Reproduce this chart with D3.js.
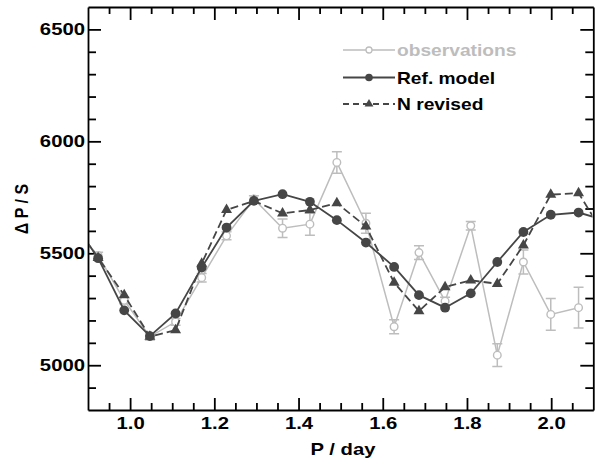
<!DOCTYPE html>
<html>
<head>
<meta charset="utf-8">
<script src="https://cdn.jsdelivr.net/npm/d3@7"></script>
<style>
  body { margin: 0; background: #fff; }
  text { font-family: "Liberation Sans", Arial, sans-serif; font-weight: bold; }
</style>
</head>
<body>
<svg id="chart" width="597" height="459"></svg>
<script>
// Pulsation period (days) of each point
var periods = [0.862, 0.924, 0.986, 1.047, 1.108, 1.170, 1.229, 1.294, 1.362, 1.427, 1.491,
    1.560, 1.627, 1.686, 1.748, 1.809, 1.872, 1.934, 1.999, 2.065, 2.128];

// Period spacing, observations (null = no point)
var obsValues = [5620, 5490, 5290, 5128, 5194, 5391, 5578, 5742, 5612, 5630, 5906,
    5634, 5172, 5503, 5286, 5623, 5045, 5461, 5227, 5257, null];
var obsErrors = [0, 15, 15, 15, 15, 19, 18, 15, 41, 50, 48,
    45, 31, 31, 18, 19, 51, 54, 71, 91, null];

// Reference model
var refValues = [5650, 5478, 5245, 5130, 5231, 5436, 5615, 5734, 5764, 5730, 5648,
    5548, 5439, 5313, 5257, 5321, 5461, 5595, 5672, 5682, 5647];

// Model with revised N abundance
var nrevValues = [5640, 5480, 5313, 5128, 5157, 5454, 5694, 5734, 5678, 5693, 5724,
    5620, 5369, 5242, 5349, 5379, 5364, 5536, 5762, 5769, 5576];

var xMajor = [1.0, 1.2, 1.4, 1.6, 1.8, 2.0];
var yMajor = [5000, 5500, 6000, 6500];
var legendLabels = ['observations', 'Ref. model', 'N revised'];

var obsColor = '#bdbdbd';
var darkColor = '#464646';

var svg = d3.select('#chart');

var x = d3.scaleLinear().domain([0.9, 2.1]).range([88, 593.3]);
var y = d3.scaleLinear().domain([4800, 6600]).range([410, 7]);

// stretch text horizontally (the original glyphs are wide)
function stretch(sel, k) {
    sel.each(function() {
        var t = d3.select(this);
        var tx = +t.attr('x') || 0;
        t.attr('x', tx / k).attr('transform', 'scale(' + k + ',1)');
    });
}

var xMinor = d3.range(0.95, 2.1, 0.05).filter(function(v) {
    return !xMajor.some(function(m) { return Math.abs(m - v) < 1e-6; });
});
var yMinor = d3.range(4900, 6600, 100).filter(function(v) {
    return yMajor.indexOf(v) < 0;
});

function styleAxis(g) {
    g.selectAll('path, line').attr('stroke', '#000').attr('stroke-width', 1.8);
    g.selectAll('text').attr('font-size', 16).attr('fill', '#000')
        .attr('font-family', '"Liberation Sans", Arial, sans-serif');
}

// bottom
svg.append('g').attr('transform', 'translate(0,410)')
    .call(d3.axisBottom(x).tickValues(xMajor).tickSizeInner(-12).tickSizeOuter(0)
        .tickPadding(8).tickFormat(d3.format('.1f')))
    .call(styleAxis)
    .call(function(g) { stretch(g.selectAll('text'), 1.27); });
svg.append('g').attr('transform', 'translate(0,410)')
    .call(d3.axisBottom(x).tickValues(xMinor).tickSize(-7).tickFormat(''))
    .call(styleAxis)
    .call(function(g) { g.select('.domain').remove(); });

// top
svg.append('g').attr('transform', 'translate(0,7)')
    .call(d3.axisTop(x).tickValues(xMajor).tickSizeInner(-13).tickSizeOuter(0).tickFormat(''))
    .call(styleAxis);
svg.append('g').attr('transform', 'translate(0,7)')
    .call(d3.axisTop(x).tickValues(xMinor).tickSize(-7).tickFormat(''))
    .call(styleAxis)
    .call(function(g) { g.select('.domain').remove(); });

// left
svg.append('g').attr('transform', 'translate(88,0)')
    .call(d3.axisLeft(y).tickValues(yMajor).tickSizeInner(-13).tickSizeOuter(0)
        .tickPadding(3).tickFormat(d3.format('d')))
    .call(styleAxis)
    .call(function(g) { stretch(g.selectAll('text'), 1.27); });
svg.append('g').attr('transform', 'translate(88,0)')
    .call(d3.axisLeft(y).tickValues(yMinor).tickSize(-8).tickFormat(''))
    .call(styleAxis)
    .call(function(g) { g.select('.domain').remove(); });

// right
svg.append('g').attr('transform', 'translate(593.3,0)')
    .call(d3.axisRight(y).tickValues(yMajor).tickSizeInner(-13).tickSizeOuter(0).tickFormat(''))
    .call(styleAxis);
svg.append('g').attr('transform', 'translate(593.3,0)')
    .call(d3.axisRight(y).tickValues(yMinor).tickSize(-8).tickFormat(''))
    .call(styleAxis)
    .call(function(g) { g.select('.domain').remove(); });

// axis titles
svg.append('text')
    .attr('x', 343).attr('y', 455)
    .attr('text-anchor', 'middle').attr('font-size', 17)
    .text('P / day')
    .call(stretch, 1.19);

svg.append('text')
    .attr('transform', 'translate(28,209)rotate(-90)scale(1,1.2)')
    .attr('text-anchor', 'middle').attr('font-size', 16)
    .text('\u0394 P / S');

// plot area
svg.append('clipPath').attr('id', 'plot-clip')
    .append('rect')
    .attr('x', 89).attr('y', 8)
    .attr('width', 503.3).attr('height', 401);

var plot = svg.append('g').attr('clip-path', 'url(#plot-clip)');

var pts = periods.map(function(p, i) {
    return {
        p: p,
        obs: obsValues[i],
        err: obsErrors[i],
        ref: refValues[i],
        nrev: nrevValues[i]
    };
});

function lineFor(key) {
    return d3.line()
        .defined(function(d) { return d[key] !== null; })
        .x(function(d) { return x(d.p); })
        .y(function(d) { return y(d[key]); });
}

// observations
plot.append('path')
    .datum(pts)
    .attr('d', lineFor('obs'))
    .attr('fill', 'none')
    .attr('stroke', obsColor)
    .attr('stroke-width', 1.5);

var obsPts = pts.filter(function(d) { return d.obs !== null; });

plot.selectAll('path.errbar')
    .data(obsPts.filter(function(d) { return d.err > 0; }))
    .join('path')
    .classed('errbar', true)
    .attr('d', function(d) {
        var cx = x(d.p);
        var y0 = y(d.obs - d.err);
        var y1 = y(d.obs + d.err);
        var c = 5;
        return 'M' + cx + ',' + y0 + 'V' + y1 +
            'M' + (cx - c) + ',' + y0 + 'h' + (2 * c) +
            'M' + (cx - c) + ',' + y1 + 'h' + (2 * c);
    })
    .attr('fill', 'none')
    .attr('stroke', obsColor)
    .attr('stroke-width', 1.5);

plot.selectAll('circle.obs')
    .data(obsPts)
    .join('circle')
    .classed('obs', true)
    .attr('cx', function(d) { return x(d.p); })
    .attr('cy', function(d) { return y(d.obs); })
    .attr('r', 3.8)
    .attr('fill', '#fff')
    .attr('stroke', obsColor)
    .attr('stroke-width', 1.4);

// reference model
plot.append('path')
    .datum(pts)
    .attr('d', lineFor('ref'))
    .attr('fill', 'none')
    .attr('stroke', darkColor)
    .attr('stroke-width', 1.8);

plot.selectAll('circle.ref')
    .data(pts)
    .join('circle')
    .classed('ref', true)
    .attr('cx', function(d) { return x(d.p); })
    .attr('cy', function(d) { return y(d.ref); })
    .attr('r', 4.9)
    .attr('fill', darkColor);

// N revised
plot.append('path')
    .datum(pts)
    .attr('d', lineFor('nrev'))
    .attr('fill', 'none')
    .attr('stroke', darkColor)
    .attr('stroke-width', 1.8)
    .attr('stroke-dasharray', '8,4');

var tri = d3.symbol().type(d3.symbolTriangle).size(52);

plot.selectAll('path.nrev')
    .data(pts)
    .join('path')
    .classed('nrev', true)
    .attr('transform', function(d) {
        return 'translate(' + x(d.p) + ',' + y(d.nrev) + ')';
    })
    .attr('d', tri)
    .attr('fill', darkColor);

// legend
var legendY = [50, 77.5, 104];
var legend = svg.append('g');

legendLabels.forEach(function(label, i) {
    var row = legend.append('g').attr('transform', 'translate(0,' + legendY[i] + ')');
    var color = i === 0 ? obsColor : darkColor;
    row.append('line')
        .attr('x1', 343).attr('x2', 395)
        .attr('stroke', color)
        .attr('stroke-width', i === 0 ? 1.5 : 1.8)
        .attr('stroke-dasharray', i === 2 ? '6,4' : null);
    if (i === 0) {
        row.append('circle').attr('cx', 369).attr('r', 3)
            .attr('fill', '#fff').attr('stroke', obsColor).attr('stroke-width', 1.3);
    } else if (i === 1) {
        row.append('circle').attr('cx', 369).attr('r', 3.8).attr('fill', darkColor);
    } else {
        row.append('path').attr('transform', 'translate(369,0)')
            .attr('d', d3.symbol().type(d3.symbolTriangle).size(34)).attr('fill', darkColor);
    }
    row.append('text')
        .attr('x', 397).attr('y', 6)
        .attr('font-size', 16)
        .attr('fill', i === 0 ? obsColor : '#000')
        .text(label)
        .call(stretch, 1.2);
});
</script>
</body>
</html>
